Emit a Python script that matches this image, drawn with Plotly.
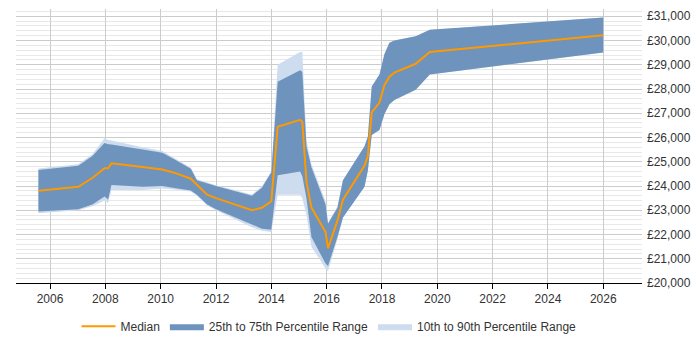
import plotly.graph_objects as go

years = [2005.58, 2007.02, 2007.53, 2007.97, 2008.10, 2008.22, 2009.35, 2010.06, 2010.49,
         2011.09, 2011.31, 2011.68, 2012.0, 2013.30, 2013.66, 2014.0, 2014.23, 2015.04,
         2015.12, 2015.27, 2015.45, 2015.96, 2016.05, 2016.39, 2016.59, 2017.37, 2017.49,
         2017.63, 2017.91, 2018.09, 2018.27, 2018.45, 2019.22, 2019.73, 2026.0]
p10 = [22880, 23000, 23170, 23400, 23300, 23840, 23840, 23900, 23860,
       23770, 23600, 23200, 23000, 22300, 22150, 22100, 23640, 23640,
       23500, 22800, 21500, 20600, 20500, 21800, 22700, 23970, 24640,
       26100, 26310, 26970, 27370, 27550, 27970, 28600, 29507]
p25 = [22950, 23040, 23240, 23570, 23440, 24040, 23970, 24000, 23920,
       23810, 23640, 23240, 23040, 22400, 22240, 22200, 24440, 24600,
       24400, 23500, 21900, 20800, 20700, 21900, 22700, 23970, 24640,
       26100, 26310, 26970, 27370, 27550, 27970, 28600, 29507]
median = [23800, 23970, 24330, 24730, 24730, 24940, 24780, 24680, 24550,
          24300, 24050, 23640, 23500, 23000, 23100, 23370, 26440, 26730,
          26640, 24170, 23110, 22100, 21440, 22570, 23440, 24840, 25240,
          27040, 27440, 28170, 28507, 28680, 29040, 29530, 30213]
p75 = [24660, 24840, 25240, 25770, 25720, 25710, 25510, 25370, 25107,
       24710, 24240, 24107, 24000, 23600, 23930, 24570, 28300, 28770,
       28700, 25640, 24770, 23240, 22440, 23100, 24240, 25640, 26040,
       28100, 28600, 29440, 29907, 30000, 30173, 30440, 30947]
p90 = [24720, 24900, 25310, 25970, 25900, 25880, 25600, 25440, 25160,
       24750, 24280, 24150, 24030, 23650, 23990, 24600, 29000, 29530,
       29530, 25900, 24900, 23370, 22500, 23150, 24240, 25640, 26040,
       28100, 28600, 29440, 29907, 30000, 30173, 30440, 30947]

x_ticks = list(range(2006, 2027, 2))

DARK = "#6e93bc"
LIGHT = "#cddcee"
ORANGE = "#ff9900"

fig = go.Figure()
fig.add_trace(go.Scatter(x=years, y=p10, mode="lines", line=dict(width=0, color=LIGHT),
                         showlegend=False, hoverinfo="skip"))
fig.add_trace(go.Scatter(x=years, y=p90, mode="lines", line=dict(width=0, color=LIGHT),
                         fill="tonexty", fillcolor=LIGHT, name="10th to 90th Percentile Range",
                         legendrank=3))
fig.add_trace(go.Scatter(x=years, y=p25, mode="lines", line=dict(width=0, color=DARK),
                         showlegend=False, hoverinfo="skip"))
fig.add_trace(go.Scatter(x=years, y=p75, mode="lines", line=dict(width=0, color=DARK),
                         fill="tonexty", fillcolor=DARK, name="25th to 75th Percentile Range",
                         legendrank=2))
fig.add_trace(go.Scatter(x=years, y=median, mode="lines", line=dict(width=2, color=ORANGE),
                         name="Median", legendrank=1))

fig.update_layout(
    width=700, height=350,
    margin=dict(l=16, r=54, t=9, b=57),
    paper_bgcolor="white", plot_bgcolor="white",
    font=dict(family="Liberation Sans, Arial, sans-serif", size=12, color="#333333"),
    legend=dict(orientation="h", x=0.5, xanchor="center", y=-0.158, yanchor="middle",
                font=dict(size=12, color="#333333"), itemwidth=34, traceorder="normal"),
    xaxis=dict(range=[2004.77, 2027.4], tickvals=x_ticks, ticktext=[str(v) for v in x_ticks],
               showgrid=True, gridcolor="#cccccc", gridwidth=1,
               showline=True, linecolor="#000000", linewidth=1,
               ticks="outside", ticklen=5, tickcolor="#000000", zeroline=False),
    yaxis=dict(side="right", range=[20000, 31300], dtick=1000, tickprefix="£", tickformat=",",
               showgrid=True, gridcolor="#cccccc", gridwidth=1, zeroline=False,
               ticks="", showline=False, ticklabelstandoff=4,
               minor=dict(dtick=200, showgrid=True, gridcolor="#e8e8e8", gridwidth=1)),
)

fig.write_html("out.html")
